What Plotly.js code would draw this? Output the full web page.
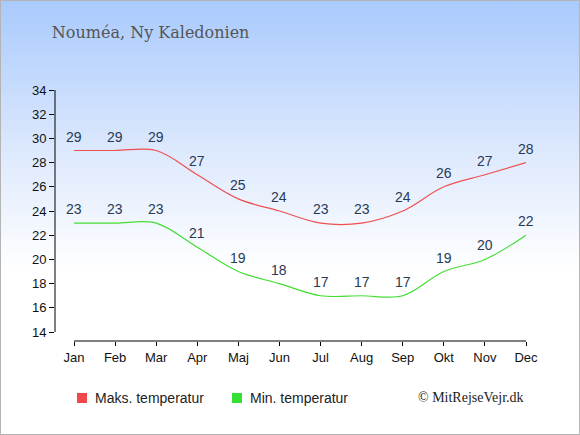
<!DOCTYPE html>
<html><head><meta charset="utf-8">
<script src="https://cdn.plot.ly/plotly-3.0.1.min.js"></script>
<style>
html,body{margin:0;padding:0;}
#wrap{width:578px;height:433px;border:1px solid #b4b4b4;background:linear-gradient(to bottom,#a9cafd 0%,#dde9fd 35%,#ffffff 62%,#ffffff 100%);}
#chart{width:578px;height:433px;}
</style></head>
<body><div id="wrap"><div id="chart"></div></div>
<script>
var months = ["Jan","Feb","Mar","Apr","Maj","Jun","Jul","Aug","Sep","Okt","Nov","Dec"];
var maxTemp = [29,29,29,27,25,24,23,23,24,26,27,28];
var minTemp = [23,23,23,21,19,18,17,17,17,19,20,22];
var yTicks = [14,16,18,20,22,24,26,28,30,32,34];
var seriesNames = ["Maks. temperatur","Min. temperatur"];
var seriesColors = ["#ee5050","#44dd33"];
var legendColors = ["#f04848","#33e033"];
var idx = months.map(function(m,i){return i;});
var labelFont = {family:"Liberation Sans, Arial, sans-serif", size:14, color:"#2a3956"};
var traces = [
 {x:idx, y:maxTemp, mode:"lines", line:{color:seriesColors[0], width:1.2, shape:"spline", smoothing:1}, showlegend:false, hoverinfo:"skip"},
 {x:idx, y:minTemp, mode:"lines", line:{color:seriesColors[1], width:1.2, shape:"spline", smoothing:1}, showlegend:false, hoverinfo:"skip"}
];
var annotations = [];
[maxTemp, minTemp].forEach(function(arr){
  arr.forEach(function(v,i){
    annotations.push({x:i, y:v, xref:"x", yref:"y", text:String(v), showarrow:false,
      xanchor:"center", yanchor:"middle", yshift:14, font:labelFont});
  });
});
var legFont = {family:"Liberation Sans, Arial, sans-serif", size:14, color:"#222"};
var legY = -0.227;
var legSq = [0.0573, 0.3864];
var legTx = [0.0807, 0.4098];
var shapes = [
  {type:"line", xref:"paper", yref:"y", x0:0, x1:0, y0:14, y1:34, line:{color:"#000", width:1}},
  {type:"line", xref:"x", yref:"paper", x0:0, x1:11, y0:0, y1:0, line:{color:"#000", width:1}}
];
seriesNames.forEach(function(n,k){
  shapes.push({type:"rect", xref:"paper", yref:"paper", x0:legSq[k]-0.0106, x1:legSq[k]+0.0106,
    y0:legY-0.02, y1:legY+0.02, fillcolor:legendColors[k], line:{width:0}});
  annotations.push({text:n, xref:"paper", yref:"paper", x:legTx[k], y:legY, xanchor:"left", yanchor:"middle",
    showarrow:false, font:legFont});
});
annotations.push({text:"© MitRejseVejr.dk", xref:"paper", yref:"paper", x:1.0, y:legY, xanchor:"right", yanchor:"middle",
   showarrow:false, font:{family:"Liberation Serif, DejaVu Serif, serif", size:14, color:"#222"}});
var tickFont = {family:"Liberation Sans, Arial, sans-serif", size:13, color:"#111"};
var layout = {
 width:578, height:433,
 paper_bgcolor:"rgba(0,0,0,0)", plot_bgcolor:"rgba(0,0,0,0)",
 margin:{l:54, r:53, t:89, b:93},
 showlegend:false,
 title:{text:"Nouméa, Ny Kaledonien", x:0.088, xanchor:"left", y:0.927, yanchor:"middle",
   font:{family:"DejaVu Serif, serif", size:16, color:"#555"}},
 xaxis:{range:[-0.463,11], tickmode:"array", tickvals:idx, ticktext:months, showgrid:false, zeroline:false,
   showline:false, ticks:"outside", ticklen:4, tickcolor:"#000", tickfont:tickFont, fixedrange:true},
 yaxis:{range:[13.26,34], tickmode:"array", tickvals:yTicks, ticktext:yTicks.map(String), showgrid:false, zeroline:false,
   showline:false, ticks:"outside", ticklen:5, tickcolor:"#000", tickfont:tickFont, fixedrange:true},
 shapes:shapes,
 annotations:annotations
};
Plotly.newPlot("chart", traces, layout, {displayModeBar:false, staticPlot:true});
</script></body></html>
